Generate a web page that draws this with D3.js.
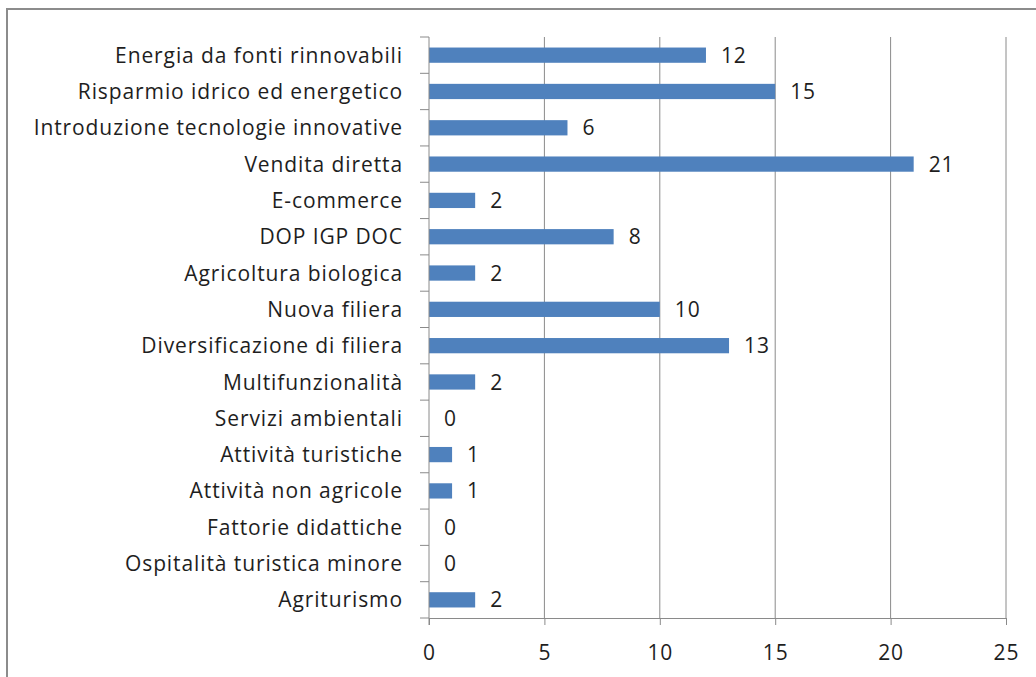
<!DOCTYPE html>
<html>
<head>
<meta charset="utf-8">
<script src="https://cdn.jsdelivr.net/npm/d3@7"></script>
<style>
  body { margin: 0; background: #fff; }
  svg { display: block; }
  text { font-variant-ligatures: none; }
</style>
</head>
<body>
<div id="chart"></div>
<script>
// Data (top to bottom)
const categories = [
    "Energia da fonti rinnovabili",
    "Risparmio idrico ed energetico",
    "Introduzione tecnologie innovative",
    "Vendita diretta",
    "E-commerce",
    "DOP IGP DOC",
    "Agricoltura biologica",
    "Nuova filiera",
    "Diversificazione di filiera",
    "Multifunzionalità",
    "Servizi ambientali",
    "Attività turistiche",
    "Attività non agricole",
    "Fattorie didattiche",
    "Ospitalità turistica minore",
    "Agriturismo"
];
const values = [12, 15, 6, 21, 2, 8, 2, 10, 13, 2, 0, 1, 1, 0, 0, 2];
const xTicks = [0, 5, 10, 15, 20, 25];

const W = 1036, H = 677;
const margin = { top: 37, right: 30, bottom: 59, left: 429 };
const width = 1006 - margin.left;
const height = 618 - margin.top;
const font = "'Open Sans', sans-serif";
const fontSize = 21;
const spacing = 0.9;
const textColor = "#1e1e1e";
const gridColor = "#8a8a8a";

const svg = d3.select("#chart").append("svg")
    .attr("width", W)
    .attr("height", H);

// outer frame
svg.append("rect")
    .attr("x", 7).attr("y", 9)
    .attr("width", W + 10).attr("height", H + 10)
    .attr("fill", "none")
    .attr("stroke", "#8c8c8c")
    .attr("stroke-width", 2);

const g = svg.append("g")
    .attr("transform", `translate(${margin.left},${margin.top})`);

const x = d3.scaleLinear().domain([0, 25]).range([0, width]);
const y = d3.scaleBand().domain(categories).range([0, height]).paddingInner(0.58).paddingOuter(0.29);

// vertical gridlines
g.selectAll(".grid").data(xTicks.slice(1)).enter().append("line")
    .attr("class", "grid")
    .attr("x1", d => x(d)).attr("x2", d => x(d))
    .attr("y1", 0).attr("y2", height)
    .attr("stroke", gridColor).attr("stroke-width", 1);

// bars
g.selectAll(".bar").data(values).enter().append("rect")
    .attr("class", "bar")
    .attr("x", x(0))
    .attr("y", (d, i) => y(categories[i]))
    .attr("width", d => x(d) - x(0))
    .attr("height", y.bandwidth())
    .attr("fill", "#4f81bd");

// value labels
g.selectAll(".val").data(values).enter().append("text")
    .attr("class", "val")
    .attr("x", d => x(d) + 15)
    .attr("y", (d, i) => y(categories[i]) + y.bandwidth() / 2)
    .attr("dy", "0.36em")
    .attr("font-family", font)
    .attr("font-size", fontSize)
    .attr("letter-spacing", spacing)
    .attr("fill", textColor)
    .text(d => d);

// x axis
const xAxis = g.append("g")
    .attr("transform", `translate(0,${height})`)
    .call(d3.axisBottom(x).tickValues(xTicks).tickSize(7).tickPadding(20).tickSizeOuter(0));
xAxis.select(".domain").attr("stroke", gridColor);
xAxis.selectAll(".tick line").attr("stroke", gridColor);
xAxis.selectAll("text")
    .attr("font-family", font).attr("font-size", fontSize)
    .attr("letter-spacing", spacing).attr("fill", textColor);

// y axis: ticks at category boundaries
const step = height / categories.length;
const yAxisG = g.append("g");
yAxisG.append("line")
    .attr("x1", 0).attr("x2", 0).attr("y1", 0).attr("y2", height + 7)
    .attr("stroke", gridColor);
yAxisG.selectAll(".ytick").data(d3.range(categories.length + 1)).enter().append("line")
    .attr("class", "ytick")
    .attr("x1", -9).attr("x2", 0)
    .attr("y1", d => d * step).attr("y2", d => d * step)
    .attr("stroke", gridColor);
yAxisG.selectAll(".ylab").data(categories).enter().append("text")
    .attr("class", "ylab")
    .attr("x", -26)
    .attr("y", d => y(d) + y.bandwidth() / 2)
    .attr("dy", "0.36em")
    .attr("text-anchor", "end")
    .attr("font-family", font)
    .attr("font-size", fontSize)
    .attr("letter-spacing", spacing)
    .attr("fill", textColor)
    .text(d => d);
</script>
</body>
</html>
